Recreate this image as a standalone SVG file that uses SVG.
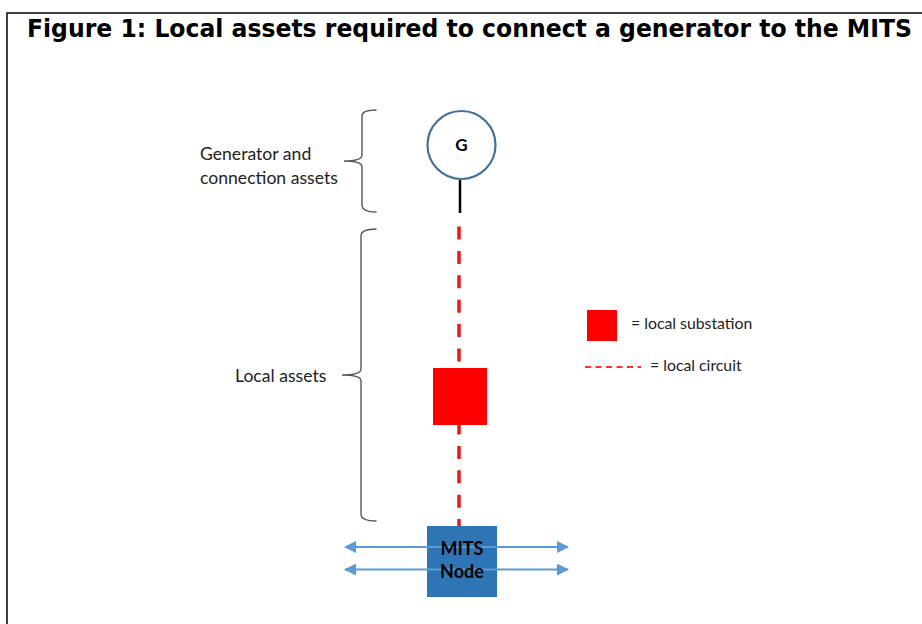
<svg xmlns="http://www.w3.org/2000/svg" width="922" height="624" viewBox="0 0 922 624">
<defs>
<style>
.lbl{font-family:Lato,"Open Sans","Liberation Sans",sans-serif;font-size:17.6px;fill:#222}
.leg{font-family:Lato,"Open Sans","Liberation Sans",sans-serif;font-size:15.8px;fill:#222}
.brace{fill:none;stroke:#555;stroke-width:1.4}
.circ{fill:none;stroke:#e31b1b;stroke-width:3.5;stroke-dasharray:13 11.4}
.arr{stroke:#5B9BD5;stroke-width:2;fill:none}
.bold{font-family:Lato,"Open Sans","Liberation Sans",sans-serif;font-weight:bold;fill:#000}
</style>
<marker id="ah" viewBox="0 0 12 12" refX="11" refY="6" markerWidth="12" markerHeight="12" markerUnits="userSpaceOnUse" orient="auto-start-reverse">
<path d="M0,0 L12,6 L0,12 Z" fill="#5B9BD5"/>
</marker>
</defs>
<rect width="922" height="624" fill="#fff"/>
<path d="M7,624 V13 H922" fill="none" stroke="#000" stroke-width="1.5"/>
<text transform="translate(27,37) scale(1,1.09)" x="0" y="0" font-family="'DejaVu Sans',Verdana,sans-serif" font-weight="bold" font-size="22" textLength="885" lengthAdjust="spacingAndGlyphs" fill="#000">Figure 1: Local assets required to connect a generator to the MITS</text>

<g id="connectors">
<line x1="460" y1="180" x2="460" y2="213" stroke="#000" stroke-width="2.5"/>
<line class="circ" x1="459" y1="226.5" x2="459" y2="368"/>
<line class="circ" x1="459" y1="421.5" x2="459" y2="526"/>
<line class="arr" x1="345" y1="547" x2="568" y2="547" marker-start="url(#ah)" marker-end="url(#ah)"/>
<line class="arr" x1="345" y1="569.5" x2="568" y2="569.5" marker-start="url(#ah)" marker-end="url(#ah)"/>
</g>

<g id="generator">
<circle cx="461.5" cy="145" r="34" fill="#fff" stroke="#41719C" stroke-width="2.2"/>
<text class="bold" x="461.5" y="151" text-anchor="middle" font-size="17">G</text>
</g>

<g id="local-substation">
<rect x="433" y="368" width="54" height="57" fill="#FF0000"/>
</g>

<g id="mits-node">
<rect x="427" y="526" width="70" height="71" fill="#2E75B6"/>
<line class="arr" x1="427" y1="547" x2="497" y2="547"/>
<line class="arr" x1="427" y1="569.5" x2="497" y2="569.5"/>
<text class="bold" x="462" y="555" text-anchor="middle" font-size="18">MITS</text>
<text class="bold" x="462" y="578" text-anchor="middle" font-size="18">Node</text>
</g>

<g id="brace-generator">
<path class="brace" d="M376.5,110 Q362,110 362,116 V155 Q362,161 344,161 Q362,161 362,167 V205 Q362,212 376.5,212"/>
<text class="lbl" x="200" y="160">Generator and</text>
<text class="lbl" x="200" y="184">connection assets</text>
</g>

<g id="brace-local">
<path class="brace" d="M376.5,229 Q361,229 361,236 V369 Q361,375 342,375 Q361,375 361,381 V514 Q361,521 376.5,521"/>
<text class="lbl" x="235" y="382">Local assets</text>
</g>

<g id="legend">
<rect x="587" y="310" width="30" height="31" fill="#FF0000"/>
<text class="leg" x="631" y="329">= local substation</text>
<line x1="585" y1="367" x2="641" y2="367" stroke="#FF3030" stroke-width="2" stroke-dasharray="6 4.5"/>
<text class="leg" x="650" y="371">= local circuit</text>
</g>
</svg>
